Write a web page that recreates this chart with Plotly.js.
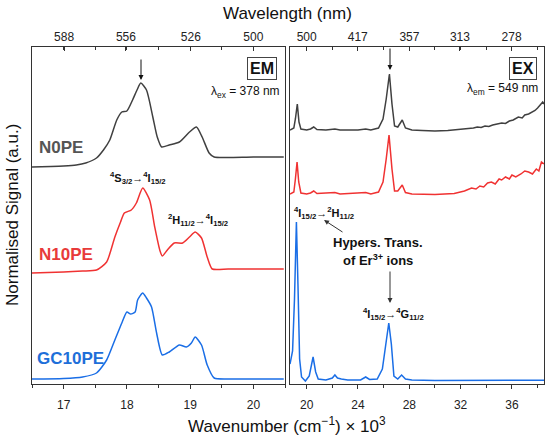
<!DOCTYPE html>
<html>
<head>
<meta charset="utf-8">
<script src="https://cdn.plot.ly/plotly-3.0.1.min.js"></script>
<style>html,body{margin:0;padding:0;background:#fff;}#chart{width:550px;height:440px;}</style>
</head>
<body>
<div id="chart"></div>
<script>
// ---------- DATA (wavenumber in 10^3 cm^-1, normalised signal, stacked) ----------
// Emission (EM) panel, λex = 378 nm
const emWn_N0PE = [16.5,16.8,17.0,17.2,17.35,17.52,17.63,17.73,17.84,17.92,18.0,18.09,18.16,18.22,18.31,18.41,18.48,18.55,18.67,18.83,18.99,19.10,19.19,19.30,19.38,19.6,20.0,20.48];
const emSig_N0PE = [2.17,2.175,2.18,2.19,2.21,2.26,2.34,2.44,2.64,2.72,2.73,2.84,2.94,3.01,2.94,2.67,2.47,2.37,2.39,2.42,2.52,2.57,2.47,2.31,2.27,2.265,2.27,2.27];

const emWn_N10PE = [16.5,17.0,17.3,17.52,17.68,17.81,17.90,17.96,18.07,18.15,18.25,18.36,18.44,18.52,18.56,18.64,18.75,18.88,18.99,19.08,19.18,19.27,19.35,19.6,20.0,20.48];
const emSig_N10PE = [1.11,1.12,1.13,1.14,1.22,1.47,1.62,1.71,1.74,1.81,1.96,1.84,1.57,1.34,1.28,1.34,1.41,1.41,1.47,1.52,1.46,1.27,1.15,1.15,1.15,1.15];

const emWn_GC10PE = [16.5,17.0,17.3,17.52,17.68,17.81,17.92,18.0,18.06,18.13,18.17,18.25,18.31,18.39,18.47,18.56,18.67,18.83,18.94,19.02,19.08,19.18,19.27,19.38,19.6,20.0,20.48];
const emSig_GC10PE = [0.05,0.055,0.07,0.11,0.24,0.44,0.61,0.72,0.70,0.72,0.84,0.91,0.86,0.77,0.51,0.29,0.32,0.39,0.37,0.41,0.47,0.39,0.19,0.06,0.05,0.05,0.05];

// Excitation (EX) panel, λem = 549 nm
const exWn_N0PE = [18.7,19.0,19.12,19.27,19.4,19.55,20.0,20.3,20.55,20.8,21.5,22.2,22.6,24.0,24.6,25.0,25.6,25.95,26.2,26.45,26.65,26.85,27.1,27.45,27.7,28.2,29,30,31,32,32.6,33.0,33.3,33.6,33.9,34.2,34.5,34.9,35.2,35.5,35.8,36.1,36.5,36.8,37.0,37.3,37.6,37.8,38.0,38.2,38.4,38.5];
const exSig_N0PE = [2.54,2.56,2.65,2.80,2.62,2.55,2.54,2.55,2.57,2.545,2.54,2.55,2.54,2.54,2.55,2.54,2.56,2.65,2.85,3.10,2.80,2.58,2.57,2.64,2.56,2.54,2.535,2.53,2.535,2.545,2.555,2.56,2.57,2.565,2.58,2.575,2.59,2.60,2.61,2.605,2.63,2.64,2.67,2.66,2.69,2.70,2.72,2.735,2.76,2.79,2.82,2.80];

const exWn_N10PE = [18.7,19.0,19.12,19.25,19.38,19.55,20.0,20.3,20.55,20.8,22.2,22.6,24.6,25.0,25.6,25.95,26.2,26.42,26.65,26.85,27.1,27.45,27.7,28.2,30,31.5,32.3,32.85,33.2,33.5,33.8,34.1,34.4,34.7,35.0,35.2,35.5,35.8,36.0,36.3,36.7,37.0,37.3,37.6,37.9,38.1,38.3,38.5];
const exSig_N10PE = [1.90,1.92,2.05,2.22,2.02,1.91,1.90,1.91,1.93,1.905,1.915,1.90,1.915,1.90,1.92,2.02,2.25,2.49,2.15,1.93,1.93,1.99,1.915,1.90,1.895,1.905,1.93,1.96,1.95,1.98,1.97,2.01,2.02,2.00,2.05,2.04,2.07,2.05,2.09,2.07,2.10,2.13,2.12,2.10,2.15,2.13,2.22,2.20];

const exWn_GC10PE = [18.7,18.9,19.05,19.2,19.32,19.45,19.6,19.9,20.2,20.5,20.7,20.9,21.5,22.0,22.2,22.4,22.7,23.2,24.2,24.6,24.9,25.5,25.9,26.15,26.4,26.6,26.8,27.1,27.4,27.7,28.2,30,34,36,37.6,38.5];
const exSig_GC10PE = [0.20,0.33,0.85,1.62,1.00,0.25,0.07,0.03,0.08,0.27,0.12,0.05,0.04,0.06,0.09,0.06,0.05,0.04,0.04,0.07,0.045,0.05,0.15,0.40,0.61,0.40,0.08,0.05,0.09,0.05,0.04,0.035,0.035,0.037,0.04,0.037];

// Tick labels of the top (wavelength) axes, nm
const topLabelsEM = ['588','556','526','500'];
const topLabelsEX = ['500','417','357','313','278'];
const seriesNames = ['N0PE','N10PE','GC10PE'];
const seriesColors = ['#404040','#f03232','#1a6ee6'];
const labelColors = ['#555555','#e83a3a','#1e6fd9'];

// ---------- LAYOUT HELPERS ----------
const W = 550, H = 440, L = 32, R = 6, T = 47, B = 56;
const PW = W - L - R, PH = H - T - B;
const px = x => (x - L) / PW;
const py = y => (H - B - y) / PH;
const FONT = 'Liberation Sans, Arial, sans-serif';
const axisCol = '#333333';

function line(x, y, color, xa, ya, name, shape) {
  return {x, y, type:'scatter', mode:'lines', name, xaxis:xa, yaxis:ya,
    line:{color, width:1.5, shape: shape || 'linear', smoothing:0.6},
    hoverinfo:'skip', showlegend:false};
}
const traces = [
  line(emWn_N0PE, emSig_N0PE, seriesColors[0], 'x', 'y', 'N0PE EM', 'spline'),
  line(emWn_N10PE, emSig_N10PE, seriesColors[1], 'x', 'y', 'N10PE EM', 'spline'),
  line(emWn_GC10PE, emSig_GC10PE, seriesColors[2], 'x', 'y', 'GC10PE EM', 'spline'),
  line(exWn_N0PE, exSig_N0PE, seriesColors[0], 'x2', 'y2', 'N0PE EX'),
  line(exWn_N10PE, exSig_N10PE, seriesColors[1], 'x2', 'y2', 'N10PE EX'),
  line(exWn_GC10PE, exSig_GC10PE, seriesColors[2], 'x2', 'y2', 'GC10PE EX'),
  {x:[], y:[], type:'scatter', xaxis:'x3', yaxis:'y', showlegend:false, hoverinfo:'skip'},
  {x:[], y:[], type:'scatter', xaxis:'x4', yaxis:'y2', showlegend:false, hoverinfo:'skip'}
];

const baseX = {showgrid:false, zeroline:false, showline:true, linecolor:axisCol, linewidth:1,
  ticks:'outside', ticklen:4, tickwidth:1, tickcolor:axisCol,
  tickfont:{family:FONT, size:12, color:'#222'}};
const emRange = [16.5, 20.5], exRange = [18.7, 38.5];

const layout = {
  width:W, height:H, margin:{l:L, r:R, t:T, b:B}, paper_bgcolor:'#fff', plot_bgcolor:'#fff',
  font:{family:FONT, color:'#222'},
  xaxis: Object.assign({}, baseX, {domain:[0, (285-L)/PW], range:emRange, anchor:'y',
    tickmode:'linear', tick0:17, dtick:1, ticklabelstandoff:6,
    minor:{ticks:'outside', ticklen:3, tickcolor:axisCol, tick0:16.5, dtick:0.5}}),
  xaxis2: Object.assign({}, baseX, {domain:[(290-L)/PW, 1], range:exRange, anchor:'y2',
    tickmode:'linear', tick0:20, dtick:4, ticklabelstandoff:6,
    minor:{ticks:'outside', ticklen:3, tickcolor:axisCol, tick0:18, dtick:2}}),
  xaxis3: Object.assign({}, baseX, {overlaying:'x', side:'top', anchor:'y', range:emRange,
    ticks:'inside', tickmode:'array',
    tickvals: topLabelsEM.map(s => 1e4/Number(s)), ticktext: topLabelsEM,
    minor:{ticks:'inside', ticklen:3, tickcolor:axisCol, tick0:16.5, dtick:0.5}}),
  xaxis4: Object.assign({}, baseX, {overlaying:'x2', side:'top', anchor:'y2', range:exRange,
    ticks:'inside', tickmode:'array',
    tickvals: topLabelsEX.map(s => 1e4/Number(s)), ticktext: topLabelsEX,
    minor:{ticks:'inside', ticklen:3, tickcolor:axisCol, tick0:18, dtick:2}}),
  yaxis: {domain:[0,1], range:[0, 3.37], anchor:'x', showticklabels:false, ticks:'',
    showgrid:false, zeroline:false, showline:true, mirror:true, linecolor:axisCol, linewidth:1},
  yaxis2: {domain:[0,1], range:[0, 3.37], anchor:'x2', showticklabels:false, ticks:'',
    showgrid:false, zeroline:false, showline:true, mirror:true, linecolor:axisCol, linewidth:1},
  annotations: []
};

const A = layout.annotations;
function txt(text, x, y, size, opts) {
  A.push(Object.assign({text, x:px(x), y:py(y), xref:'paper', yref:'paper', showarrow:false,
    font:{family:FONT, size, color:'#111'}, xanchor:'center', yanchor:'middle'}, opts || {}));
}
function arrow(tipX, tipY, tailX, tailY, color, head) {
  A.push({text:'', x:px(tipX), y:py(tipY), xref:'paper', yref:'paper', showarrow:true,
    ax:tailX - tipX, ay:tailY - tipY, arrowhead:head || 2, arrowsize:1, arrowwidth:1,
    arrowcolor:color || '#111', standoff:0});
}
// axis titles
txt('Wavelength (nm)', 287, 13, 17);
txt('Wavenumber (cm<sup>−1</sup>) × 10<sup>3</sup>', 287, 425, 17);
txt('Normalised Signal (a.u.)', 12, 215, 17, {textangle:-90});
// series labels
txt('<b>' + seriesNames[0] + '</b>', 37, 147, 17, {xanchor:'left', font:{family:FONT, size:17, color:labelColors[0]}});
txt('<b>' + seriesNames[1] + '</b>', 37, 254, 17, {xanchor:'left', font:{family:FONT, size:17, color:labelColors[1]}});
txt('<b>' + seriesNames[2] + '</b>', 35, 358, 17, {xanchor:'left', font:{family:FONT, size:17, color:labelColors[2]}});
// panel boxes
txt('<b>EM</b>', 262, 68, 16, {bordercolor:'#444', borderwidth:1, borderpad:2});
txt('<b>EX</b>', 523, 68, 16, {bordercolor:'#444', borderwidth:1, borderpad:2});
txt('λ<sub>ex</sub> = 378 nm', 282, 92, 12, {xanchor:'right'});
txt('λ<sub>em</sub> = 549 nm', 540, 89, 12, {xanchor:'right'});
// transitions
txt('<b><sup>4</sup>S<sub>3/2</sub>→<sup>4</sup>I<sub>15/2</sub></b>', 138, 178, 11);
txt('<b><sup>2</sup>H<sub>11/2</sub>→<sup>4</sup>I<sub>15/2</sub></b>', 198, 220, 11);
txt('<b><sup>4</sup>I<sub>15/2</sub>→<sup>2</sup>H<sub>11/2</sub></b>', 292, 213, 11, {xanchor:'left'});
txt('<b><sup>4</sup>I<sub>15/2</sub>→<sup>4</sup>G<sub>11/2</sub></b>', 393, 314, 11);
txt('<b>Hypers. Trans.</b>', 378, 242, 13);
txt('<b>of Er<sup>3+</sup> ions</b>', 378, 260, 13);
// arrows
arrow(141, 80, 141, 58, '#111', 2);
arrow(390, 70, 390, 47, '#111', 2);
arrow(324, 220, 344, 233, '#333', 2);
arrow(390, 303, 390, 270, '#333', 2);

Plotly.newPlot('chart', traces, layout, {staticPlot:true, displayModeBar:false});
</script>
</body>
</html>
